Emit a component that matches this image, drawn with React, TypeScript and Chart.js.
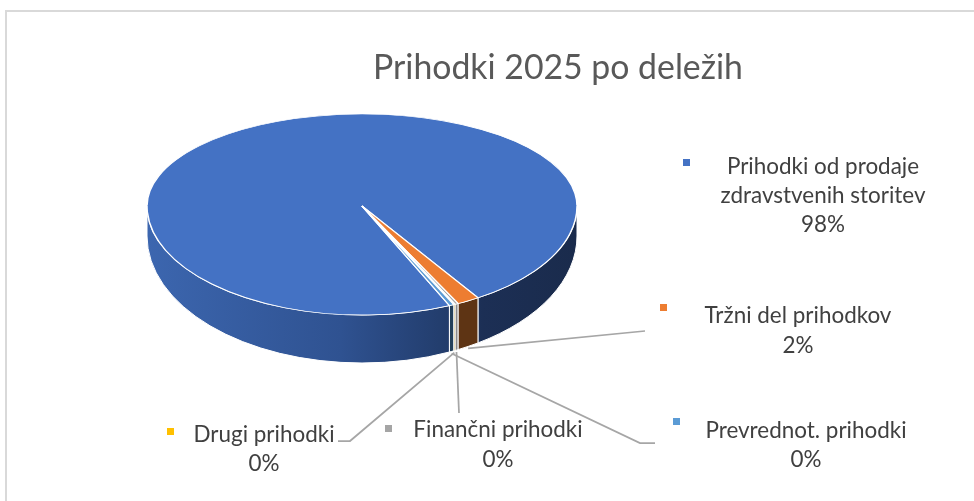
import React, { useEffect, useRef } from "react";
import { Chart, registerables } from "chart.js";

Chart.register(...registerables);

// ---------------- data ----------------
const categories = [
  "Prihodki od prodaje zdravstvenih storitev",
  "Tržni del prihodkov",
  "Finančni prihodki",
  "Drugi prihodki",
  "Prevrednot. prihodki",
];
const shares = [97.6, 1.7, 0.25, 0.1, 0.35];
const labelLines = [
  ["Prihodki od prodaje", "zdravstvenih storitev"],
  ["Tržni del prihodkov"],
  ["Finančni prihodki"],
  ["Drugi prihodki"],
  ["Prevrednot. prihodki"],
];
const chartTitle = "Prihodki 2025 po deležih";

// ---------------- styles ----------------
const topColors = ["#4472C4", "#ED7D31", "#A5A5A5", "#FFC000", "#5B9BD5"];
const sideColors = ["#2d4f8c", "#5e3414", "#8a8a8a", "#b08600", "#24405a"];
const FONT = "Lato, 'Open Sans', sans-serif";
const TITLE_COLOR = "#595959";
const LABEL_COLOR = "#404040";
const LEADER_COLOR = "#a6a6a6";

// ---------------- layout ----------------
const W = 974;
const H = 501;
const PIE = { cx: 362, cy: 206, r: 215, kFar: 92 / 215, kNear: 109 / 215, d0: 30, e: 18 };
const ROTATION = 156;
const TITLE_POS = { x: 558, y: 79, width: 370 };
const LABEL_FIT = { text: "zdravstvenih storitev", width: 205 };
const LABEL_LAYOUT: { key: number[]; cx: number; base: number[]; leader: number[][] | null }[] = [
  { key: [683, 159], cx: 823, base: [174, 203, 232], leader: null },
  { key: [660, 304], cx: 798, base: [323, 353], leader: [[645, 331]] },
  { key: [385, 425], cx: 498, base: [437, 467], leader: [[459, 413]] },
  { key: [167, 428], cx: 264, base: [442, 471], leader: [[350, 441], [338, 441]] },
  { key: [673, 418], cx: 806, base: [438, 467], leader: [[640, 443], [655, 443]] },
];

function fitSize(text: string, width: number): number {
  const c = document.createElement("canvas").getContext("2d")!;
  c.font = `100px ${FONT}`;
  const w = c.measureText(text).width;
  return (100 * width) / w;
}

export default function App() {
  const canvasRef = useRef<HTMLCanvasElement | null>(null);

  useEffect(() => {
    const canvas = canvasRef.current;
    if (!canvas) return;
    const titleSize = fitSize(chartTitle, TITLE_POS.width);
    const labelSize = fitSize(LABEL_FIT.text, LABEL_FIT.width);
    const total = shares.reduce((a, b) => a + b, 0);

    const pie3d = {
      id: "pie3d",
      beforeDatasetsDraw(chart: any) {
        const ctx: CanvasRenderingContext2D = chart.ctx;
        const arcs = chart.getDatasetMeta(0).data as any[];
        if (!arcs.length) return;
        const { cx, cy, r, kFar, kNear, d0, e } = PIE;
        const ryN = r * kNear;

        // side walls (front half only)
        const grad = ctx.createLinearGradient(cx - r, 0, cx + r, 0);
        grad.addColorStop(0, "#3c66af");
        grad.addColorStop(0.45, "#2f5291");
        grad.addColorStop(0.7, "#223c6b");
        grad.addColorStop(0.78, "#1c2f55");
        grad.addColorStop(1, "#1a2b4c");
        arcs.forEach((arc, i) => {
          const { startAngle, endAngle } = arc.getProps(["startAngle", "endAngle"], true);
          for (let k = -2; k <= 2; k++) {
            const lo = Math.max(startAngle, 2 * Math.PI * k);
            const hi = Math.min(endAngle, 2 * Math.PI * k + Math.PI);
            if (hi <= lo) continue;
            ctx.save();
            ctx.beginPath();
            ctx.ellipse(cx, cy, r, ryN, 0, lo, hi, false);
            ctx.ellipse(cx, cy + d0, r, ryN + e, 0, hi, lo, true);
            ctx.closePath();
            ctx.fillStyle = i === 0 ? grad : sideColors[i];
            ctx.fill();
            ctx.strokeStyle = "#ffffff";
            ctx.lineWidth = 1;
            ctx.stroke();
            ctx.restore();
          }
        });

        // top face: far half and near half with different foreshortening
        const a0 = arcs[0];
        const ox = a0.x, oy = a0.y, orr = a0.outerRadius;
        const halves: [number, number, number][] = [
          [0, cy + 0.5, kFar],
          [cy - 0.5, H, kNear],
        ];
        for (const [y0, y1, k] of halves) {
          ctx.save();
          ctx.beginPath();
          ctx.rect(0, y0, W, y1 - y0);
          ctx.clip();
          ctx.translate(cx, cy);
          ctx.scale(r / orr, (k * r) / orr);
          ctx.translate(-ox, -oy);
          arcs.forEach((a) => a.draw(ctx));
          ctx.restore();
        }
        return false;
      },
      afterDraw(chart: any) {
        const ctx: CanvasRenderingContext2D = chart.ctx;
        const arcs = chart.getDatasetMeta(0).data as any[];
        const { cx, cy, r, kNear, d0, e } = PIE;
        const ryB = r * kNear + e;

        // title
        ctx.save();
        ctx.fillStyle = TITLE_COLOR;
        ctx.font = `${titleSize}px ${FONT}`;
        ctx.textAlign = "center";
        ctx.textBaseline = "alphabetic";
        ctx.fillText(chartTitle, TITLE_POS.x, TITLE_POS.y);
        ctx.restore();

        // leader lines
        arcs.forEach((arc, i) => {
          const lay = LABEL_LAYOUT[i];
          if (!lay.leader) return;
          const { startAngle, endAngle } = arc.getProps(["startAngle", "endAngle"], true);
          const m = (startAngle + endAngle) / 2;
          const sx = cx + r * Math.cos(m);
          const sy = cy + d0 + ryB * Math.sin(m) + 2;
          ctx.save();
          ctx.strokeStyle = LEADER_COLOR;
          ctx.lineWidth = 1.75;
          ctx.beginPath();
          ctx.moveTo(sx, sy);
          lay.leader.forEach(([x, y]) => ctx.lineTo(x, y));
          ctx.stroke();
          ctx.restore();
        });

        // labels
        shares.forEach((v, i) => {
          const lay = LABEL_LAYOUT[i];
          ctx.save();
          ctx.fillStyle = topColors[i];
          ctx.fillRect(lay.key[0], lay.key[1], 7, 7);
          ctx.fillStyle = LABEL_COLOR;
          ctx.font = `${labelSize}px ${FONT}`;
          ctx.textAlign = "center";
          ctx.textBaseline = "alphabetic";
          const lines = [...labelLines[i], `${Math.round((v / total) * 100)}%`];
          lines.forEach((t, j) => ctx.fillText(t, lay.cx, lay.base[j]));
          ctx.restore();
        });
      },
    };

    const chart = new Chart(canvas, {
      type: "pie",
      data: {
        labels: categories,
        datasets: [
          {
            data: shares,
            backgroundColor: topColors,
            borderColor: "#ffffff",
            borderWidth: 1.5,
            hoverOffset: 0,
          },
        ],
      },
      options: {
        animation: false,
        responsive: false,
        maintainAspectRatio: false,
        devicePixelRatio: 1,
        events: [],
        rotation: ROTATION,
        layout: { padding: { left: PIE.cx - PIE.r, right: W - (PIE.cx + PIE.r), top: 0, bottom: H - 2 * PIE.r } },
        plugins: {
          legend: { display: false },
          tooltip: { enabled: false },
          title: { display: false },
        },
      },
      plugins: [pie3d as any],
    });
    return () => chart.destroy();
  }, []);

  return (
    <div
      style={{
        position: "absolute",
        left: 0,
        top: 0,
        width: W,
        height: H,
        overflow: "hidden",
        background: "#ffffff",
      }}
    >
      <div
        style={{
          position: "absolute",
          left: 5,
          top: 10,
          width: 1100,
          height: 700,
          border: "2px solid #d9d9d9",
          boxSizing: "border-box",
        }}
      />
      <canvas
        ref={canvasRef}
        width={W}
        height={H}
        style={{ position: "absolute", left: 0, top: 0, width: W, height: H }}
      />
    </div>
  );
}
